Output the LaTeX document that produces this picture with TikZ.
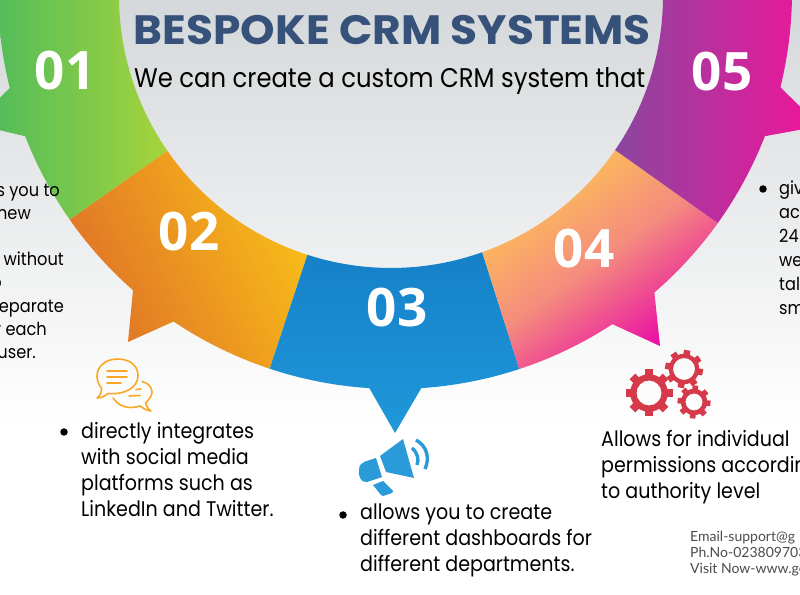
\documentclass[tikz,border=0pt]{standalone}
\usepackage{fontspec}
\setmainfont[FakeStretch=0.9]{Poppins}
\newfontfamily\titlefont[FakeStretch=1.07]{Poppins}
\newfontfamily\numfont{Open Sans}
\newfontfamily\footfont{Lato}
\usetikzlibrary{calc}
\definecolor{titleblue}{HTML}{36527A}
\definecolor{gearred}{HTML}{D63A4A}
\definecolor{talkorange}{HTML}{F9A825}
\definecolor{hornblue}{HTML}{2A9BD8}
\definecolor{backtop}{HTML}{D5D8DA}
\definecolor{greenA}{HTML}{48B95E}
\definecolor{greenB}{HTML}{A6D43B}
\definecolor{orangeA}{HTML}{DF7028}
\definecolor{orangeB}{HTML}{F8BE18}
\definecolor{blueA}{HTML}{1580C8}
\definecolor{blueB}{HTML}{2098DA}
\definecolor{peachA}{HTML}{FFC850}
\definecolor{peachM}{HTML}{F48C7E}
\definecolor{pinkB}{HTML}{E900A9}
\definecolor{purpleA}{HTML}{8A469F}
\definecolor{pinkC}{HTML}{F2149A}
\newcommand{\gearshape}[4]{%
    \foreach \a in {0,45,...,315} {
        \fill[gearred,rotate around={\a+#4:(#1)}] ($(#1)+(-0.17*#2,0.72*#2)$) rectangle ($(#1)+(0.17*#2,#2)$);
    }
    \fill[gearred,even odd rule] (#1) circle[radius=0.8*#2] (#1) circle[radius=#3];
}
\begin{document}
\begin{tikzpicture}[
                x=1pt,y=1pt,
                bodytext/.style={anchor=base west,align=left,inner sep=0pt,font=\fontsize{21.2}{26}\selectfont},
                sidetext/.style={anchor=base west,align=left,inner sep=0pt,font=\fontsize{18}{24}\selectfont},
                cuttext/.style={anchor=base east,inner sep=0pt,font=\fontsize{18}{24}\selectfont},
                bulletdot/.style={circle,fill=black,inner sep=0pt,minimum size=7.5pt},
                numlabel/.style={text=white,inner sep=0pt,font=\numfont\bfseries\fontsize{53}{53}\selectfont},
                talkline/.style={talkorange,line width=1.6pt,line cap=round,line join=round},
                hornpart/.style={hornblue},
                hornwave/.style={hornblue,line width=3.4pt}
            ]
                \clip (0,0) rectangle (800,594);
                \fill[white] (0,0) rectangle (800,594);
                \shade[top color=backtop,bottom color=white] (0,170) rectangle (800,594);
                \coordinate (ci) at (391,598);
                \coordinate (co) at (395,602);
                \path[left color=greenA,right color=greenB] ($(ci)+(178:272)$) arc[start angle=178,end angle=214.7,radius=272] -- ($(co)+(215:397)$) arc[start angle=215,end angle=201.3,radius=397] -- (-27,470) -- ($(co)+(194:397)$) arc[start angle=194,end angle=178,radius=397] -- cycle;
                \path[left color=orangeA,right color=orangeB,shading angle=115] ($(ci)+(214.7:272)$) arc[start angle=214.7,end angle=252.1,radius=272] -- ($(co)+(251.6:397)$) arc[start angle=251.6,end angle=236.1,radius=397] -- (128,252) -- ($(co)+(228.7:397)$) arc[start angle=228.7,end angle=215,radius=397] -- cycle;
                \path[top color=blueA,bottom color=blueB] ($(ci)+(252.1:272)$) arc[start angle=252.1,end angle=289.6,radius=272] -- ($(co)+(288.25:397)$) arc[start angle=288.25,end angle=273.8,radius=397] -- (395,161) -- ($(co)+(266.3:397)$) arc[start angle=266.3,end angle=251.6,radius=397] -- cycle;
                \path[left color=peachA,right color=pinkB,middle color=peachM,shading angle=36] ($(ci)+(289.6:272)$) arc[start angle=289.6,end angle=325.5,radius=272] -- ($(co)+(324.4:397)$) arc[start angle=324.4,end angle=310.8,radius=397] -- (660,248) -- ($(co)+(303.2:397)$) arc[start angle=303.2,end angle=288.25,radius=397] -- cycle;
                \path[left color=purpleA,right color=pinkC] ($(ci)+(325.5:272)$) arc[start angle=325.5,end angle=362,radius=272] -- ($(co)+(362:397)$) arc[start angle=362,end angle=346.1,radius=397] -- (820,468) -- ($(co)+(338.7:397)$) arc[start angle=338.7,end angle=324.4,radius=397] -- cycle;
                \begin{scope}[yscale=-1,yshift=-594pt]
                    \node (n1) [numlabel] at (65,71) {01};
                    \node (n2) [numlabel] at (189,232) {02};
                    \node (n3) [numlabel] at (397,308) {03};
                    \node (n4) [numlabel] at (584,249) {04};
                    \node (n5) [numlabel] at (722,72) {05};
                    \node (title) [inner sep=0pt,text=titleblue,font=\titlefont\bfseries\fontsize{41}{41}\selectfont] at (392.5,30) {BESPOKE CRM SYSTEMS};
                    \node (sub) [inner sep=0pt,anchor=base west,font=\fontsize{27}{27}\selectfont] at (134,88) {We can create a custom CRM system that};
                    \node (l1) [cuttext] at (60,197) {s you to};
                    \node (l2) [cuttext] at (31,220) {new};
                    \node (l3) [cuttext] at (64,266) {without};
                    \node (l4) [cuttext] at (2,289) {o};
                    \node (l5) [cuttext] at (64,313) {eparate};
                    \node (l6) [cuttext] at (47,336) {r each};
                    \node (l7) [cuttext] at (36,359) {user.};
                    \node (d1) [bulletdot] at (64,432) {};
                    \node (t1) [bodytext] at (81,517) {directly integrates\\with social media\\platforms such as\\LinkedIn and Twitter.};
                    \node (d2) [bulletdot] at (343,515) {};
                    \node (t2) [bodytext] at (360,572) {allows you to create\\different dashboards for\\different departments.};
                    \node (t3) [bodytext] at (601,499) {Allows for individual\\permissions accordin\\to authority level};
                    \node (d3) [bulletdot] at (763,189) {};
                    \node (t4) [sidetext] at (779,315) {giv\\ac\\24\\we\\tal\\sm};
                    \node (foot) [anchor=base west,align=left,inner sep=0pt,text=black!70,font=\footfont\fontsize{14}{16}\selectfont] at (690,574) {Email-support@g\\Ph.No-023809703\\Visit Now-www.ge};
                    \draw[talkline] (108,393.5) .. controls (126,395) and (138,387) .. (138,375.5) .. controls (138,365) and (129,359) .. (117.5,359) .. controls (106,359) and (97,366) .. (97,376) .. controls (97,381) and (99,385) .. (101.5,388) .. controls (102,392) and (100,396) .. (97,398) .. controls (102,398) and (105,396) .. cycle;
                    \draw[talkline] (113,398) .. controls (117,404) and (123,407.5) .. (131,407.5) .. controls (134,407.5) and (137,407) .. (140,406) .. controls (143,408) and (146,410.5) .. (151,411) .. controls (148,409) and (146,406) .. (145.5,403) .. controls (149,399.5) and (152,396) .. (152,392) .. controls (152,387) and (148,383) .. (142,381.5);
                    \draw[talkline] (107,371) -- (127,371) (107,377) -- (127,377) (107,383) -- (121,383) (136,389.5) -- (141,389) (129,396) -- (140,395.5);
                    \fill[hornpart] (380,456) -- (403,439) -- (414,478) -- (386,472) -- cycle;
                    \fill[hornpart] (376,458) -- (382,477) -- (367,482) .. controls (361,483) and (358,476) .. (359,470) .. controls (359,466) and (361,463) .. (364,462) -- cycle;
                    \fill[hornpart] (373,485) -- (383,481) -- (393,491) -- (392,493) -- (383,496) -- (381,495) -- cycle;
                    \draw[hornwave] (412,448) .. controls (418,453) and (419,460) .. (417,465);
                    \draw[hornwave] (416,440) .. controls (427,446) and (430,458) .. (425,469);
                    \gearshape{649,393}{23.5}{12.5}{0}
                    \gearshape{684,369}{19}{11}{10}
                    \gearshape{694,402}{16.5}{8.5}{5}
                \end{scope}
            \end{tikzpicture}
\end{document}
